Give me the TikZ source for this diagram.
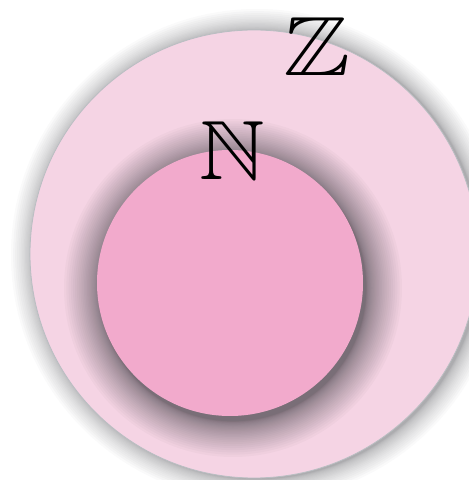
\documentclass[tikz,border=0pt]{standalone}
\usepackage{amssymb}
\usepackage{graphicx}
\definecolor{outerpink}{RGB}{245,212,228}
\definecolor{innerpink}{RGB}{242,170,204}
\definecolor{rimgray}{RGB}{185,190,194}
\definecolor{shadowgray}{RGB}{60,60,66}
\tikzset{
  setlabel/.style={inner sep=0pt, font=\fontsize{84}{84}\selectfont},
  outerset/.style={circle, inner sep=0pt, minimum size=448pt, fill=outerpink, draw=rimgray, line width=0.8pt},
  innerset/.style={circle, inner sep=0pt, minimum size=266pt, fill=innerpink},
  shadowring/.style={fill=shadowgray, fill opacity=#1, draw=none}
}
\begin{document}
\begin{tikzpicture}[x=1pt,y=1pt]
\useasboundingbox (0,0) rectangle (469,480);
\clip (0,0) rectangle (469,480);
\coordinate (Zc) at (254,226);
\coordinate (Nc) at (230,197);
% soft shadow of the outer set
\foreach \i in {0,...,19}{
  \fill[shadowring=0.026] ([shift={(3,-1)}]Zc) circle ({224+22*((20-\i)/20)^2});
}
\node[outerset] (Zset) at (Zc) {};
% soft shadow of the inner set
\foreach \i in {0,...,29}{
  \fill[shadowring=0.03] ([shift={(3,-5)}]Nc) circle ({133+36*((30-\i)/30)^2});
}
\node[innerset] (Nset) at (Nc) {};
\node[setlabel] (Zlab) at (317,433) {\scalebox{1.2}[1]{$\mathbb{Z}$}};
\node[setlabel] (Nlab) at (232,329) {\scalebox{1.08}[1]{$\mathbb{N}$}};
\end{tikzpicture}
\end{document}
